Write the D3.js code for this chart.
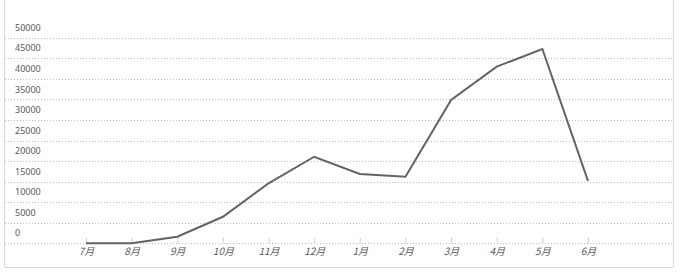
<!DOCTYPE html>
<html>
<head>
<meta charset="utf-8">
<script src="https://cdn.jsdelivr.net/npm/d3@7"></script>
<style>
  html, body { margin: 0; padding: 0; background: #ffffff; }
  svg { display: block; }
</style>
</head>
<body>
<svg id="chart" width="682" height="278"></svg>
<script>
const months = ["7月","8月","9月","10月","11月","12月","1月","2月","3月","4月","5月","6月"];
const values = [0, 0, 1600, 6450, 14600, 21050, 16850, 16200, 34850, 42950, 47250, 15200];
const yTicks = [0, 5000, 10000, 15000, 20000, 25000, 30000, 35000, 40000, 45000, 50000];

const svg = d3.select("#chart");
const W = 682, H = 278;

const x = d3.scalePoint().domain(months).range([86, 588]);
const y = d3.scaleLinear().domain([0, 50000]).range([243.3, 37.7]);

// outer border (left, bottom, right)
svg.append("path")
  .attr("d", `M4.5,0 V267.5 H673.5 V0`)
  .attr("fill", "none")
  .attr("stroke", "#d9d9d9")
  .attr("stroke-width", 1);

// gridlines
svg.append("g").selectAll("line").data(yTicks).join("line")
  .attr("x1", 5).attr("x2", 673)
  .attr("y1", d => Math.round(y(d)) + 0.5)
  .attr("y2", d => Math.round(y(d)) + 0.5)
  .attr("stroke", "#bfbfbf")
  .attr("stroke-width", 1)
  .attr("stroke-dasharray", "1,2");

// y labels (sit above their gridlines)
svg.append("g").selectAll("text").data(yTicks).join("text")
  .attr("x", 15)
  .attr("y", d => y(d) - 10)
  .attr("dy", "0.35em")
  .attr("font-family", "'Noto Sans', 'Noto Sans CJK SC', sans-serif")
  .attr("font-size", 9)
  .attr("fill", "#595959")
  .text(d => d);

// x axis ticks
const xAxis = d3.axisBottom(x).tickSize(-6).tickSizeOuter(0).tickPadding(8);
const gx = svg.append("g")
  .attr("transform", `translate(0,${Math.round(y(0)) + 0.5})`)
  .call(xAxis);
gx.select(".domain").remove();
gx.selectAll(".tick line").attr("stroke", "#d0d0d0");
gx.selectAll(".tick text")
  .attr("font-family", "'Noto Sans CJK SC', 'Noto Sans', sans-serif")
  .attr("font-size", 10)
  .attr("font-style", "italic")
  .attr("fill", "#595959")
  .attr("y", 4);

// data line
const line = d3.line().x((d, i) => x(months[i])).y(d => y(d));
svg.append("path")
  .datum(values)
  .attr("d", line)
  .attr("fill", "none")
  .attr("stroke", "#636363")
  .attr("stroke-width", 2)
  .attr("stroke-linejoin", "miter");
</script>
</body>
</html>
